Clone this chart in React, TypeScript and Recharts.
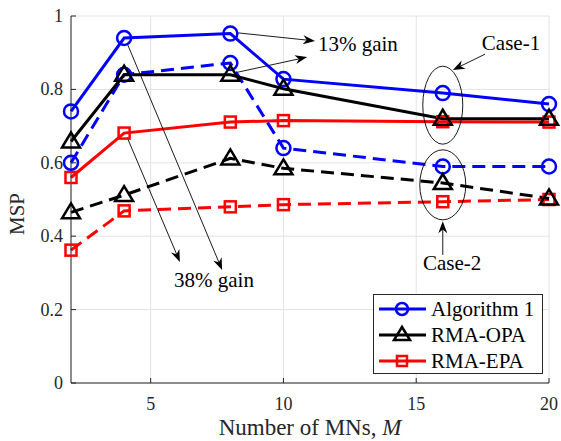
import React from "react";
import {
  LineChart,
  Line,
  XAxis,
  YAxis,
  CartesianGrid,
  Legend,
  ReferenceLine,
  ReferenceDot,
} from "recharts";

// values
const mnCounts = [2, 4, 8, 10, 16, 20];
const alg1Case1 = [0.74, 0.94, 0.952, 0.828, 0.79, 0.76];
const alg1Case2 = [0.6, 0.84, 0.872, 0.64, 0.59, 0.59];
const opaCase1 = [0.658, 0.84, 0.84, 0.802, 0.72, 0.72];
const opaCase2 = [0.465, 0.512, 0.612, 0.585, 0.545, 0.503];
const epaCase1 = [0.56, 0.681, 0.711, 0.715, 0.712, 0.711];
const epaCase2 = [0.362, 0.469, 0.48, 0.486, 0.494, 0.5];

const xTicks = [5, 10, 15, 20];
const yTicks = [0, 0.2, 0.4, 0.6, 0.8, 1];
const seriesNames = ["Algorithm 1", "RMA-OPA", "RMA-EPA"];

// annotation geometry, in data units
const arrows = [
  { from: [8.29, 0.954], to: [11.19, 0.932] },
  { from: [8.29, 0.847], to: [10.89, 0.888] },
  { from: [4.11, 0.926], to: [7.69, 0.308] },
  { from: [4.11, 0.67], to: [6.1, 0.33] },
  { from: [17.59, 0.896], to: [16.38, 0.853] },
  { from: [16.0, 0.349], to: [16.0, 0.441] },
];
const ellipses = [
  { x: 16.0, y: 0.757, rx: 20, ry: 39 },
  { x: 16.0, y: 0.54, rx: 23, ry: 35 },
];
const notes = [
  { x: 11.3, y: 0.924, text: "13% gain", anchor: "start" },
  { x: 5.88, y: 0.281, text: "38% gain", anchor: "start" },
  { x: 17.47, y: 0.926, text: "Case-1", anchor: "start" },
  { x: 16.35, y: 0.327, text: "Case-2", anchor: "middle" },
];

const data = mnCounts.map((m, i) => ({
  m,
  alg1: alg1Case1[i],
  alg2: alg1Case2[i],
  opa1: opaCase1[i],
  opa2: opaCase2[i],
  epa1: epaCase1[i],
  epa2: epaCase2[i],
}));

const FONT = "Liberation Serif";
const AXIS = "#262626";

const circleDot = (color: string) => (p: any) =>
  <circle key={p.index} cx={p.cx} cy={p.cy} r={7} fill="none" stroke={color} strokeWidth={2.5} />;

const triangleDot = (p: any) => (
  <polygon
    key={p.index}
    points={`${p.cx},${p.cy - 9} ${p.cx + 9},${p.cy + 6} ${p.cx - 9},${p.cy + 6}`}
    fill="none"
    stroke="#000"
    strokeWidth={2.5}
    strokeLinejoin="miter"
  />
);

const squareDot = (p: any) =>
  <rect key={p.index} x={p.cx - 5.5} y={p.cy - 5.5} width={11} height={11} fill="none" stroke="#f00" strokeWidth={2.5} />;

const ArrowShape = (p: any) => {
  const { x1, y1, x2, y2 } = p;
  const a = Math.atan2(y2 - y1, x2 - x1);
  const c = Math.cos(a), s = Math.sin(a);
  const len = 12, half = 4.5;
  const bx = x2 - len * c, by = y2 - len * s;
  const nx = x2 - len * 0.7 * c, ny = y2 - len * 0.7 * s;
  return (
    <g>
      <line x1={x1} y1={y1} x2={nx} y2={ny} stroke="#000" strokeWidth={0.9} />
      <polygon
        points={`${x2},${y2} ${bx - half * s},${by + half * c} ${nx},${ny} ${bx + half * s},${by - half * c}`}
        fill="#000"
      />
    </g>
  );
};

const XTick = (p: any) => (
  <text x={p.x} y={410} textAnchor="middle" style={{ fontFamily: FONT }} fontSize={18} fill={AXIS}>
    {p.payload.value}
  </text>
);

const YTick = (p: any) => (
  <text x={63} y={p.y + 6} textAnchor="end" style={{ fontFamily: FONT }} fontSize={18} fill={AXIS}>
    {p.payload.value}
  </text>
);

const LegendBox = () => {
  const colors = ["#00f", "#000", "#f00"];
  const marks = [
    <circle cx={28} cy={13} r={6} fill="none" stroke="#00f" strokeWidth={2.5} />,
    <polygon points="28,5 36,18 20,18" fill="none" stroke="#000" strokeWidth={2.5} />,
    <rect x={23} y={8} width={10} height={10} fill="none" stroke="#f00" strokeWidth={2.5} />,
  ];
  return (
    <div
      style={{
        width: 168,
        height: 77,
        border: `1px solid ${AXIS}`,
        background: "#fff",
        paddingTop: 1,
        boxSizing: "content-box",
      }}
    >
      {seriesNames.map((name, i) => (
        <div key={name} style={{ display: "flex", alignItems: "center", height: 26 }}>
          <svg width={57} height={26}>
            <line x1={5} y1={13} x2={52} y2={13} stroke={colors[i]} strokeWidth={3} />
            {marks[i]}
          </svg>
          <span style={{ fontFamily: FONT, fontSize: 21, color: "#000", lineHeight: "26px" }}>{name}</span>
        </div>
      ))}
    </div>
  );
};

export default function App() {
  return (
    <div style={{ width: 561, height: 441, background: "#fff", position: "relative", fontFamily: FONT }}>
      <style>{"body{margin:0}"}</style>
      <LineChart width={561} height={441} data={data} margin={{ top: 16, right: 12, bottom: 0, left: 0 }}>
        <CartesianGrid stroke="#e3e3e3" strokeWidth={1} />
        <XAxis
          dataKey="m"
          type="number"
          domain={[2, 20]}
          ticks={xTicks}
          height={58}
          stroke={AXIS}
          tickSize={-5}
          tick={XTick}
          label={{
            content: () => (
              <text x={310} y={435} textAnchor="middle" style={{ fontFamily: FONT }} fontSize={23} fill={AXIS}>
                <tspan>Number of MNs, </tspan>
                <tspan fontStyle="italic">M</tspan>
              </text>
            ),
          }}
        />
        <XAxis
          xAxisId="top"
          orientation="top"
          dataKey="m"
          type="number"
          domain={[2, 20]}
          ticks={xTicks}
          height={0}
          stroke={AXIS}
          tickSize={-5}
          tick={() => <g />}
        />
        <YAxis
          type="number"
          domain={[0, 1]}
          ticks={yTicks}
          width={71}
          stroke={AXIS}
          tickSize={-5}
          tick={YTick}
          label={{
            content: () => (
              <text
                x={24}
                y={214}
                textAnchor="middle"
                style={{ fontFamily: FONT }}
                fontSize={21}
                fill={AXIS}
                transform="rotate(-90 24 214)"
              >
                MSP
              </text>
            ),
          }}
        />
        <YAxis
          yAxisId="right"
          orientation="right"
          type="number"
          domain={[0, 1]}
          ticks={yTicks}
          width={0}
          stroke={AXIS}
          tickSize={-5}
          tick={() => <g />}
        />

        {ellipses.map((e, i) => (
          <ReferenceDot
            key={`e${i}`}
            x={e.x}
            y={e.y}
            r={1}
            shape={(p: any) => (
              <ellipse cx={p.cx} cy={p.cy} rx={e.rx} ry={e.ry} fill="none" stroke="#000" strokeWidth={0.9} />
            )}
          />
        ))}

        <Line dataKey="epa1" stroke="#f00" strokeWidth={3} dot={squareDot} isAnimationActive={false} legendType="none" />
        <Line dataKey="epa2" stroke="#f00" strokeWidth={3} strokeDasharray="13 7" dot={squareDot} isAnimationActive={false} legendType="none" />
        <Line dataKey="alg1" stroke="#00f" strokeWidth={3} dot={circleDot("#00f")} isAnimationActive={false} legendType="none" />
        <Line dataKey="alg2" stroke="#00f" strokeWidth={3} strokeDasharray="13 7" dot={circleDot("#00f")} isAnimationActive={false} legendType="none" />
        <Line dataKey="opa1" stroke="#000" strokeWidth={3} dot={triangleDot} isAnimationActive={false} legendType="none" />
        <Line dataKey="opa2" stroke="#000" strokeWidth={3} strokeDasharray="13 7" dot={triangleDot} isAnimationActive={false} legendType="none" />

        {arrows.map((a, i) => (
          <ReferenceLine
            key={`a${i}`}
            segment={[
              { x: a.from[0], y: a.from[1] },
              { x: a.to[0], y: a.to[1] },
            ]}
            shape={ArrowShape}
          />
        ))}

        {notes.map((n, i) => (
          <ReferenceDot
            key={`n${i}`}
            x={n.x}
            y={n.y}
            r={1}
            shape={(p: any) => (
              <text x={p.cx} y={p.cy + 7} textAnchor={n.anchor} style={{ fontFamily: FONT }} fontSize={21} fill="#000">
                {n.text}
              </text>
            )}
          />
        ))}

        <Legend
          layout="horizontal"
          verticalAlign="middle"
          align="center"
          content={() => <LegendBox />}
          wrapperStyle={{ position: "absolute", left: 373, top: 294, width: 170, height: 79 }}
        />
      </LineChart>
    </div>
  );
}
